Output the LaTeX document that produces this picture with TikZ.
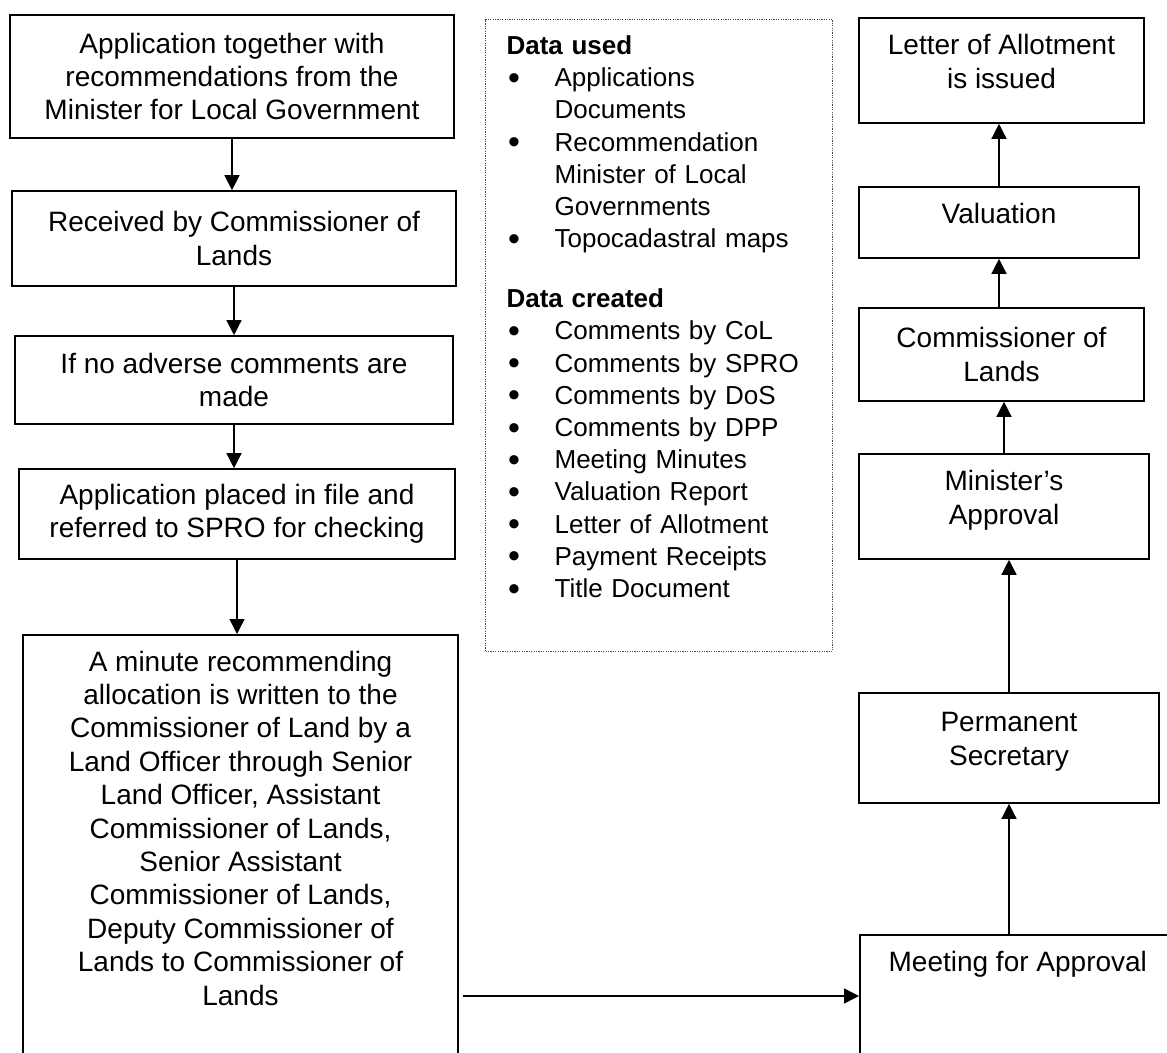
\documentclass[tikz,border=0pt]{standalone}
\usepackage{fontspec}
\setmainfont{Liberation Sans}
\usepackage{tikz}
\usetikzlibrary{arrows.meta,positioning}
\definecolor{ink}{HTML}{000000}
\definecolor{dotgray}{HTML}{4A4A4A}
\tikzset{
  procbox/.style={draw=ink,line width=0.8pt,align=center,inner sep=4pt,
                  font=\fontsize{14pt}{16.7pt}\selectfont},
  topbox/.style={procbox,anchor=north,inner ysep=8pt},
  databox/.style={draw=dotgray,line width=0.6pt,dash pattern=on 0.6pt off 0.6pt,
                  anchor=north west,align=left,inner xsep=10.5pt,inner ysep=8pt,
                  font=\fontsize{13pt}{16.1pt}\selectfont},
  blackarr/.style={-{Triangle[length=7.5pt,width=7.5pt]},line width=0.7pt,
                   draw=ink}
}
\newcommand{\dbul}{\makebox[24pt][l]{\hspace{0.8pt}%
  \raisebox{-1.3pt}{\fontsize{17pt}{17pt}\selectfont\textbullet}}}
\newcommand{\dcont}{\hspace*{24pt}}

\begin{document}
\begin{tikzpicture}[x=0.5pt,y=-0.5pt]
  \path[use as bounding box,fill=white] (0,0) rectangle (1167,1053);
  \clip (0,0) rectangle (1167,1053);

  % left column
  \node[procbox,minimum width=222pt,minimum height=61.5pt] (apply) at (232,76.5)
    {Application together with\\recommendations from the\\Minister for Local Government};
  \node[procbox,minimum width=222pt,minimum height=47.5pt] (recv) at (234,238.5)
    {Received by Commissioner of\\Lands};
  \node[procbox,minimum width=219pt,minimum height=44pt] (noadv) at (234,380)
    {If no adverse comments are\\made};
  \node[procbox,minimum width=218pt,minimum height=45pt] (placed) at (237,514)
    {Application placed in file and\\referred to SPRO for checking};
  \node[topbox,minimum width=217.5pt,text depth=60pt] (minute) at (240.5,634)
    {A minute recommending\\allocation is written to the\\Commissioner of Land by a\\
     Land Officer through Senior\\Land Officer, Assistant\\Commissioner of Lands,\\
     Senior Assistant\\Commissioner of Lands,\\Deputy Commissioner of\\
     Lands to Commissioner of\\Lands};

  % data list
  \node[databox,text width=152.5pt,text depth=290.5pt] (data) at (485,19)
    {\textbf{Data used}\\
     \dbul Applications\\
     \dcont Documents\\
     \dbul Recommendation\\
     \dcont Minister of Local\\
     \dcont Governments\\
     \dbul Topocadastral maps\\[13.9pt]
     \textbf{Data created}\\
     \dbul Comments by CoL\\
     \dbul Comments by SPRO\\
     \dbul Comments by DoS\\
     \dbul Comments by DPP\\
     \dbul Meeting Minutes\\
     \dbul Valuation Report\\
     \dbul Letter of Allotment\\
     \dbul Payment Receipts\\
     \dbul Title Document};

  % right column
  \node[procbox,minimum width=142.5pt,minimum height=52.5pt,text depth=9pt] (letter)
    at (1001.5,70.5) {Letter of Allotment\\is issued};
  \node[procbox,minimum width=140pt,minimum height=35.5pt,text depth=9pt] (valuation)
    at (999,222.5) {Valuation};
  \node[procbox,minimum width=142.5pt,minimum height=46.5pt] (colright)
    at (1001.5,354.5) {Commissioner of\\Lands};
  \node[procbox,minimum width=145pt,minimum height=52.5pt,text depth=9pt] (minister)
    at (1004,506.5) {Minister's\\Approval};
  \node[procbox,minimum width=150pt,minimum height=55pt,text depth=9pt] (permsec)
    at (1009,748) {Permanent\\Secretary};
  \node[topbox,anchor=north west,minimum width=158pt,text depth=40pt] (meeting)
    at (859,934) {Meeting for Approval};

  \draw[blackarr] (apply.south) -- (apply.south |- recv.north);
  \draw[blackarr] (recv.south) -- (recv.south |- noadv.north);
  \draw[blackarr] (noadv.south) -- (noadv.south |- placed.north);
  \draw[blackarr] (placed.south) -- (placed.south |- minute.north);

  \coordinate (feed) at (0,996);
  \draw[blackarr,shorten <=2pt] (minute.east |- feed) -- (meeting.west |- feed);

  \draw[blackarr] (meeting.north -| permsec.south) -- (permsec.south);
  \draw[blackarr] (permsec.north) -- (permsec.north |- minister.south);
  \draw[blackarr] (minister.north) -- (minister.north |- colright.south);
  \draw[blackarr] (valuation.south |- colright.north) -- (valuation.south);
  \draw[blackarr] (valuation.north) -- (valuation.north |- letter.south);
\end{tikzpicture}
\end{document}
